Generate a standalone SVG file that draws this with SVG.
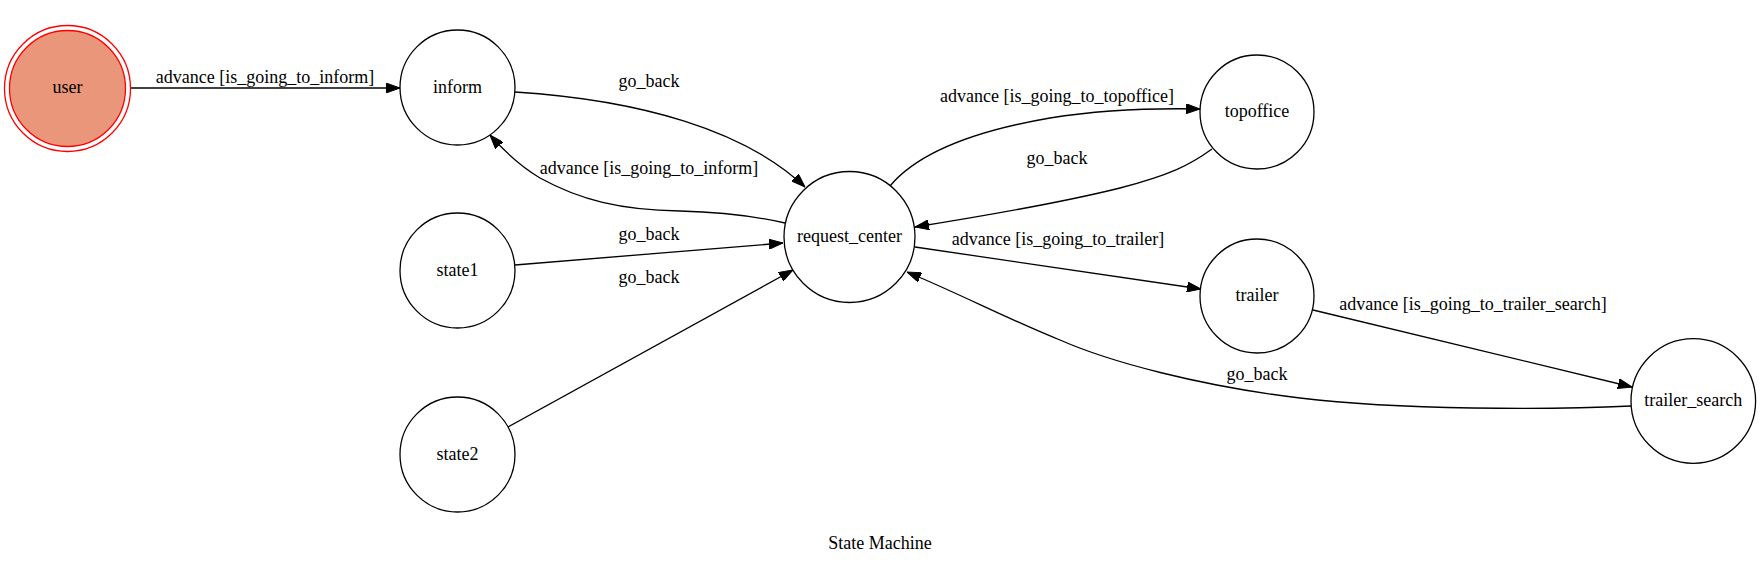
<svg xmlns="http://www.w3.org/2000/svg" width="1761" height="566" viewBox="0 0 1761 566">
<style>
text{font-family:'Liberation Serif','Times New Roman',serif;font-size:18px;fill:#000;text-anchor:middle}
.n{fill:none;stroke:#000;stroke-width:1.3}
.e{fill:none;stroke:#000;stroke-width:1.3;marker-end:url(#ah)}
</style>
<defs>
<marker id="ah" viewBox="0 0 14 10" refX="14" refY="5" markerWidth="14" markerHeight="10" markerUnits="userSpaceOnUse" orient="auto">
<path d="M0,0 L14,5 L0,10 z" fill="#000" stroke="#000" stroke-width="1"/>
</marker>
</defs>
<rect width="1761" height="566" fill="#fff"/>
<g id="connectors">
<path class="e" d="M131,88 L400,88"/>
<text x="265" y="83">advance [is_going_to_inform]</text>
<path class="e" d="M515,92 C640,100 745,130 805,187"/>
<text x="649" y="87">go_back</text>
<path class="e" d="M785,223 C750,215 720,212 680,211 C620,210 580,200 540,178 C520,166 505,152 490,135"/>
<text x="649" y="174">advance [is_going_to_inform]</text>
<path class="e" d="M515,265 L783,243"/>
<text x="649" y="240">go_back</text>
<path class="e" d="M508,427 L793,270"/>
<text x="649" y="283">go_back</text>
<path class="e" d="M890,186 C920,150 980,130 1050,118 C1100,110 1150,108 1200,109"/>
<text x="1057" y="102">advance [is_going_to_topoffice]</text>
<path class="e" d="M1212,149 C1190,165 1170,175 1120,188 C1060,203 990,215 915,227"/>
<text x="1057" y="164">go_back</text>
<path class="e" d="M915,247 L1201,289"/>
<text x="1058" y="245">advance [is_going_to_trailer]</text>
<path class="e" d="M1313,310 L1632,387"/>
<text x="1473" y="310">advance [is_going_to_trailer_search]</text>
<path class="e" d="M1631,406 C1550,410 1400,410 1300,398 C1200,386 1110,362 1060,340 C1010,320 960,294 907,272"/>
<text x="1257" y="380">go_back</text>
</g>
<g id="user">
<circle cx="67.5" cy="88.5" r="63" fill="none" stroke="#ff0000" stroke-width="1.3"/>
<circle cx="67.5" cy="88.5" r="58" fill="#e9967a" stroke="#ff0000" stroke-width="1.3"/>
<text x="67.5" y="93">user</text>
</g>
<g id="inform">
<circle class="n" cx="457.5" cy="87.5" r="57.5"/>
<text x="457.5" y="93">inform</text>
</g>
<g id="state1">
<circle class="n" cx="457.5" cy="270.5" r="57.5"/>
<text x="457.5" y="276">state1</text>
</g>
<g id="state2">
<circle class="n" cx="457.5" cy="454.5" r="57.5"/>
<text x="457.5" y="460">state2</text>
</g>
<g id="request_center">
<circle class="n" cx="849.5" cy="237" r="65.5"/>
<text x="849.5" y="242">request_center</text>
</g>
<g id="topoffice">
<circle class="n" cx="1257" cy="112" r="57"/>
<text x="1257" y="117">topoffice</text>
</g>
<g id="trailer">
<circle class="n" cx="1257" cy="296" r="57"/>
<text x="1257" y="301">trailer</text>
</g>
<g id="trailer_search">
<circle class="n" cx="1693.3" cy="401" r="62.3"/>
<text x="1693.3" y="406">trailer_search</text>
</g>
<text x="880" y="549">State Machine</text>
</svg>
